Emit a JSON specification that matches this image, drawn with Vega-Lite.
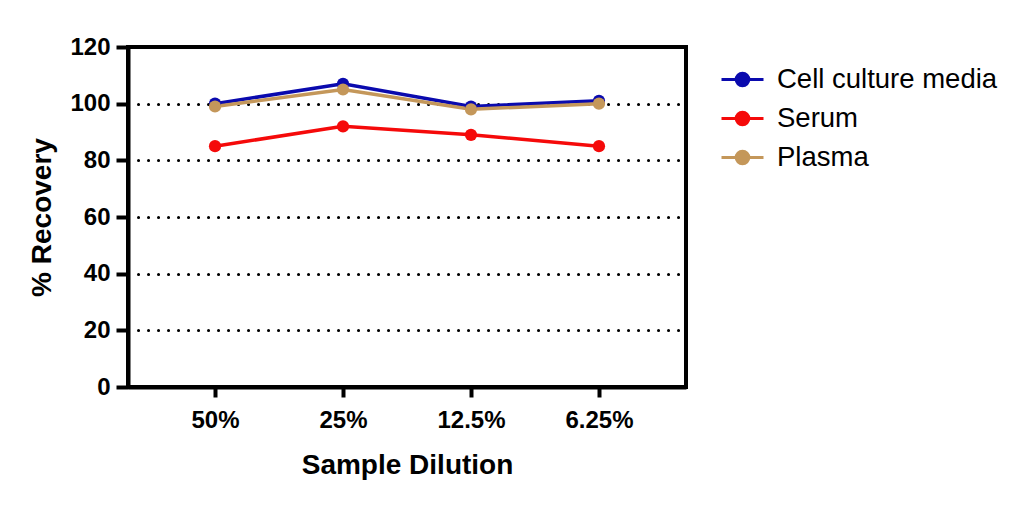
{
  "$schema": "https://vega.github.io/schema/vega-lite/v6.json",
  "autosize": {"type": "none"},
  "width": 558,
  "height": 340,
  "padding": {"left": 128, "top": 47, "right": 345, "bottom": 120},
  "background": "white",
  "data": {
    "values": [
      {"dilution": "50%", "sample": "Cell culture media", "recovery": 100},
      {"dilution": "25%", "sample": "Cell culture media", "recovery": 107},
      {"dilution": "12.5%", "sample": "Cell culture media", "recovery": 99},
      {"dilution": "6.25%", "sample": "Cell culture media", "recovery": 101},
      {"dilution": "50%", "sample": "Serum", "recovery": 85},
      {"dilution": "25%", "sample": "Serum", "recovery": 92},
      {"dilution": "12.5%", "sample": "Serum", "recovery": 89},
      {"dilution": "6.25%", "sample": "Serum", "recovery": 85},
      {"dilution": "50%", "sample": "Plasma", "recovery": 99},
      {"dilution": "25%", "sample": "Plasma", "recovery": 105},
      {"dilution": "12.5%", "sample": "Plasma", "recovery": 98},
      {"dilution": "6.25%", "sample": "Plasma", "recovery": 100}
    ]
  },
  "encoding": {
    "x": {
      "field": "dilution",
      "type": "ordinal",
      "sort": ["50%", "25%", "12.5%", "6.25%"],
      "scale": {"type": "point", "padding": 0.68},
      "title": "Sample Dilution",
      "axis": {
        "labelAngle": 0,
        "labelFontSize": 24,
        "labelFontWeight": "bold",
        "labelPadding": 11,
        "tickSize": 10,
        "tickWidth": 4,
        "domainWidth": 4,
        "titleFontSize": 28,
        "titlePadding": 19,
        "grid": false
      }
    },
    "y": {
      "field": "recovery",
      "type": "quantitative",
      "scale": {"domain": [0, 120], "nice": false},
      "title": "% Recovery",
      "axis": {
        "values": [0, 20, 40, 60, 80, 100, 120],
        "labelFontSize": 24,
        "labelFontWeight": "bold",
        "labelPadding": 6,
        "tickSize": 12,
        "tickWidth": 4,
        "domainWidth": 4,
        "titleFontSize": 28,
        "titlePadding": 13,
        "grid": true,
        "gridDash": [0.1, 9.9],
        "gridCap": "round",
        "gridWidth": 3,
        "gridColor": "black"
      }
    },
    "color": {
      "field": "sample",
      "type": "nominal",
      "sort": ["Cell culture media", "Serum", "Plasma"],
      "scale": {
        "domain": ["Cell culture media", "Serum", "Plasma"],
        "range": ["#0a0aae", "#f50a0a", "#c4975a"]
      },
      "legend": {
        "title": null,
        "orient": "none",
        "legendX": 599,
        "legendY": 17,
        "labelFontSize": 27.5,
        "labelLimit": 400,
        "labelOffset": 19,
        "rowPadding": 10,
        "symbolType": "M-1.5,0L1.5,0M-0.45,0A0.45,0.45 0 1,0 0.45,0A0.45,0.45 0 1,0 -0.45,0Z",
        "symbolSize": 784,
        "symbolStrokeWidth": 3,
        "encode": {
          "symbols": {
            "update": {
              "fill": {"scale": "color", "field": "value"},
              "stroke": {"scale": "color", "field": "value"},
              "fillOpacity": {"value": 1},
              "opacity": {"value": 1}
            }
          }
        }
      }
    }
  },
  "layer": [
    {
      "mark": {"type": "line", "strokeWidth": 3.5}
    },
    {
      "mark": {"type": "point", "filled": true, "size": 150, "opacity": 1}
    }
  ],
  "config": {
    "font": "Liberation Sans",
    "view": {"stroke": "black", "strokeWidth": 4},
    "axis": {
      "domainColor": "black",
      "tickColor": "black",
      "labelColor": "black",
      "titleColor": "black",
      "titleFontWeight": "bold"
    },
    "legend": {"labelColor": "black"}
  }
}
